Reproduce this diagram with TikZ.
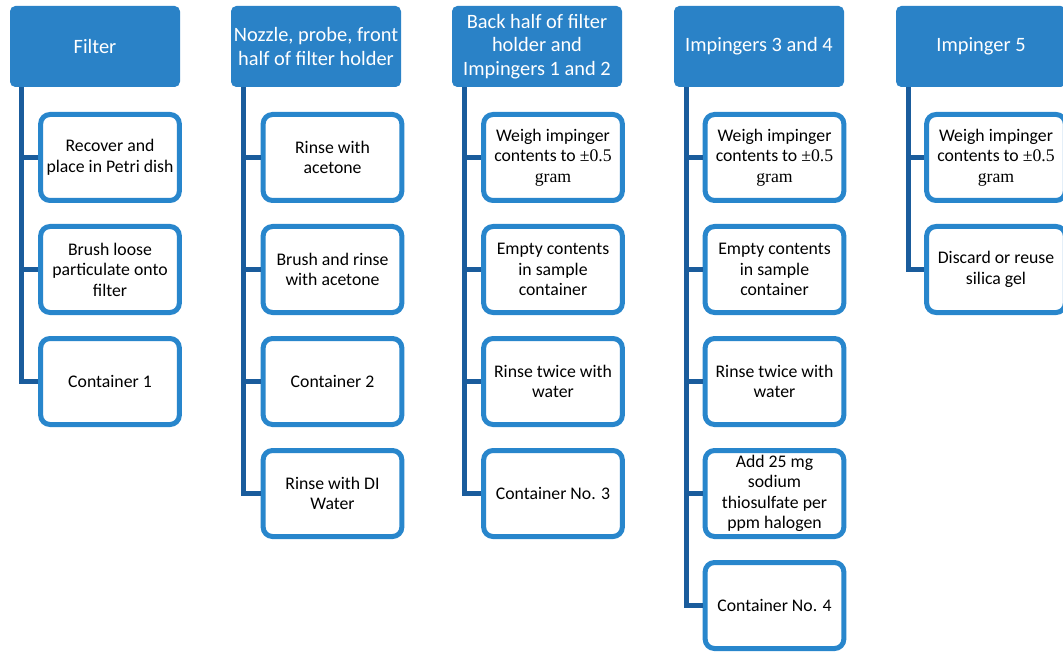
\documentclass[tikz,border=0pt]{standalone}
\usepackage{fontspec}
\setmainfont{Carlito}
\newfontfamily\tms{Liberation Serif}
\definecolor{headblue}{RGB}{42,130,199}
\definecolor{boxblue}{RGB}{40,134,204}
\definecolor{treeblue}{RGB}{26,92,156}
\tikzset{every picture/.style={line width=0.75pt}}

\begin{document}
\begin{tikzpicture}[x=0.75pt,y=0.75pt,yscale=-1,xscale=1,
  head/.style={fill=headblue, rounded corners=4pt, text=white, align=center,
    minimum width=127.5pt, minimum height=60.75pt, inner sep=1pt,
    font=\fontsize{15.3}{17.4}\selectfont},
  item/.style={draw=boxblue, fill=white, line width=3.75pt, rounded corners=7pt,
    align=center, minimum width=104pt, minimum height=64.5pt, inner sep=1pt,
    font=\fontsize{13.3}{15.4}\selectfont},
  tree/.style={draw=treeblue, line width=3.75pt}]
%set diagram size: 1063 x 652
\useasboundingbox (0,0) rectangle (1063,652);
\clip (0,0) rectangle (1063,652);

% Headers
\node[head] (h1) at (95,46.5) {Filter};
\node[head] (h2) at (316,46.5) {Nozzle, probe, front\\half of filter holder};
\node[head] (h3) at (537,46.5) {Back half of filter\\holder and\\Impingers 1 and 2};
\node[head] (h4) at (759,46.5) {Impingers 3 and 4};
\node[head] (h5) at (981,46.5) {Impinger 5};

% Filter
\node[item] (a1) at (110,157.5) {Recover and\\place in Petri dish};
\node[item] (a2) at (110,269.5) {Brush loose\\particulate onto\\filter};
\node[item] (a3) at (110,381.5) {Container 1};

% Nozzle, probe, front half
\node[item] (b1) at (332.5,157.5) {Rinse with\\acetone};
\node[item] (b2) at (332.5,269.5) {Brush and rinse\\with acetone};
\node[item] (b3) at (332.5,381.5) {Container 2};
\node[item] (b4) at (332.5,493.5) {Rinse with DI\\Water};

% Back half, impingers 1 and 2
\node[item] (c1) at (553,157.5) {Weigh impinger\\contents to {\tms ±0.5}\\{\tms gram}};
\node[item] (c2) at (553,269.5) {Empty contents\\in sample\\container};
\node[item] (c3) at (553,381.5) {Rinse twice with\\water};
\node[item] (c4) at (553,493.5) {Container No. 3};

% Impingers 3 and 4
\node[item] (d1) at (774.5,157.5) {Weigh impinger\\contents to {\tms ±0.5}\\{\tms gram}};
\node[item] (d2) at (774.5,269.5) {Empty contents\\in sample\\container};
\node[item] (d3) at (774.5,381.5) {Rinse twice with\\water};
\node[item] (d4) at (774.5,493.5) {Add 25 mg\\sodium\\thiosulfate per\\ppm halogen};
\node[item] (d5) at (774.5,605.5) {Container No. 4};

% Impinger 5
\node[item] (e1) at (996,157.5) {Weigh impinger\\contents to {\tms ±0.5}\\{\tms gram}};
\node[item] (e2) at (996,269.5) {Discard or reuse\\silica gel};

% Tree lines
\foreach \n in {a1,a2,a3}
  \draw[tree] ([xshift=9pt]h1.south west) |- (\n.west);
\foreach \n in {b1,b2,b3,b4}
  \draw[tree] ([xshift=9.5pt]h2.south west) |- (\n.west);
\foreach \n in {c1,c2,c3,c4}
  \draw[tree] ([xshift=9.5pt]h3.south west) |- (\n.west);
\foreach \n in {d1,d2,d3,d4,d5}
  \draw[tree] ([xshift=9.5pt]h4.south west) |- (\n.west);
\foreach \n in {e1,e2}
  \draw[tree] ([xshift=10pt]h5.south west) |- (\n.west);

\end{tikzpicture}
\end{document}
